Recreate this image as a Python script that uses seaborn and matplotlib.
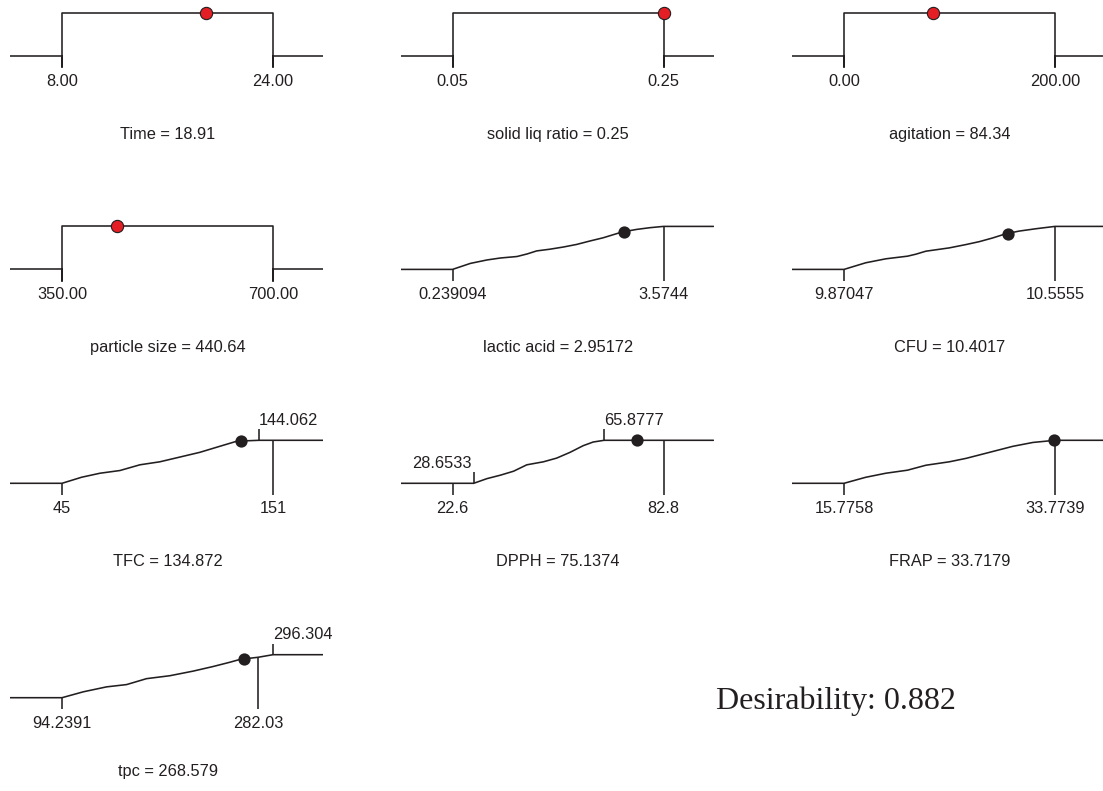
import matplotlib
matplotlib.use("Agg")
import matplotlib.pyplot as plt
import seaborn as sns
import pandas as pd
import numpy as np

# ---------------- data ----------------
factor_names = ["Time", "solid liq ratio", "agitation", "particle size"]
factor_low = [8.00, 0.05, 0.00, 350.00]
factor_high = [24.00, 0.25, 200.00, 700.00]
factor_value = [18.91, 0.25, 84.34, 440.64]
factor_value_text = ["18.91", "0.25", "84.34", "440.64"]
factor_low_text = ["8.00", "0.05", "0.00", "350.00"]
factor_high_text = ["24.00", "0.25", "200.00", "700.00"]

response_names = ["lactic acid", "CFU", "TFC", "DPPH", "FRAP", "tpc"]
response_value = [2.95172, 10.4017, 134.872, 75.1374, 33.7179, 268.579]
response_value_text = ["2.95172", "10.4017", "134.872", "75.1374", "33.7179", "268.579"]
response_dot_desir = [0.87, 0.83, 0.98, 1.0, 1.0, 0.89]

ticks_below = [[0.239094, 3.5744], [9.87047, 10.5555], [45, 151],
               [22.6, 82.8], [15.7758, 33.7739], [94.2391, 282.03]]
ticks_below_text = [["0.239094", "3.5744"], ["9.87047", "10.5555"], ["45", "151"],
                    ["22.6", "82.8"], ["15.7758", "33.7739"], ["94.2391", "282.03"]]
ticks_above = [[], [], [144.062], [28.6533, 65.8777], [], [296.304]]
ticks_above_text = [[], [], ["144.062"], ["28.6533", "65.8777"], [], ["296.304"]]

lactic_x = [0.239094, 0.523, 0.786, 0.996, 1.26, 1.42, 1.57, 1.78, 1.99, 2.20, 2.41, 2.62, 2.92, 3.15, 3.36, 3.5744]
lactic_d = [0, 0.14, 0.22, 0.265, 0.30, 0.36, 0.43, 0.47, 0.52, 0.58, 0.66, 0.735, 0.87, 0.93, 0.97, 1]
cfu_x = [9.87047, 9.941, 10.006, 10.077, 10.104, 10.136, 10.212, 10.266, 10.310, 10.353, 10.397, 10.440, 10.494, 10.5555]
cfu_d = [0, 0.154, 0.246, 0.308, 0.354, 0.423, 0.50, 0.577, 0.646, 0.731, 0.831, 0.892, 0.946, 1]
tfc_x = [45, 54.86, 64.06, 74.09, 84.12, 94.15, 104.19, 114.22, 124.25, 132.9, 144.062]
tfc_d = [0, 0.141, 0.234, 0.297, 0.43, 0.50, 0.61, 0.72, 0.86, 0.98, 1]
dpph_x = [28.6533, 32.44, 36.23, 40.02, 43.80, 48.54, 52.32, 56.11, 59.89, 62.73, 65.8777]
dpph_d = [0, 0.109, 0.188, 0.281, 0.43, 0.50, 0.586, 0.719, 0.875, 0.96, 1]
frap_x = [15.7758, 17.63, 19.34, 21.19, 22.76, 24.76, 26.19, 27.33, 28.47, 30.18, 31.89, 33.7739]
frap_d = [0, 0.14, 0.234, 0.305, 0.42, 0.50, 0.58, 0.66, 0.74, 0.86, 0.95, 1]
tpc_x = [94.2391, 114.64, 136.95, 156.07, 175.19, 197.5, 219.8, 238.9, 254.9, 265.1, 282.03, 296.304]
tpc_d = [0, 0.137, 0.252, 0.305, 0.443, 0.511, 0.618, 0.725, 0.824, 0.893, 0.94, 1]
curves_x = [lactic_x, cfu_x, tfc_x, dpph_x, frap_x, tpc_x]
curves_d = [lactic_d, cfu_d, tfc_d, dpph_d, frap_d, tpc_d]

desirability_text = "Desirability: 0.882"

# ---------------- style / layout ----------------
sns.set_theme(style="white")
plt.rcParams["font.family"] = ["Liberation Sans", "DejaVu Sans"]
INK = "#231f20"
RED = "#e31e24"
LW = 1.15
FS = 11.8

W, H = 1103, 791
col_center = [167.5, 558.0, 949.5]
row_base = [55.7, 269.4, 483.3, 697.7]
row_title_off = [-83, -83, -83, -78]
HALF = 105.5
LEFT_EXT, RIGHT_EXT = 52, 50
RAMP_H = 43.0
PAD = 15.0
TICK_DN = -11.5 / RAMP_H
TICK_UP = 11.0 / RAMP_H

factor_cells = [(0, 0), (0, 1), (0, 2), (1, 0)]
response_cells = [(1, 1), (1, 2), (2, 0), (2, 1), (2, 2), (3, 0)]

fig = plt.figure(figsize=(W / 100, H / 100), dpi=100)
fig.patch.set_facecolor("white")


def make_axes(r, c, lo, hi):
    cx, base = col_center[c], row_base[r]
    left_px = cx - HALF - LEFT_EXT
    right_px = cx + HALF + RIGHT_EXT
    ax = fig.add_axes([left_px / W, 1 - (base + PAD) / H,
                       (right_px - left_px) / W, (RAMP_H + 2 * PAD) / H])
    dpp = (hi - lo) / (2 * HALF)
    ax.set_xlim(lo - LEFT_EXT * dpp, hi + RIGHT_EXT * dpp)
    ax.set_ylim(-PAD / RAMP_H, 1 + PAD / RAMP_H)
    ax.axis("off")
    return ax


def label(ax, text, x, y, dy, ha="center", dx=0, size=FS):
    ax.annotate(text, xy=(x, y), xytext=(dx, dy), textcoords="offset pixels",
                ha=ha, va="baseline", fontsize=size, color=INK,
                annotation_clip=False)


# factor panels
for i, (r, c) in enumerate(factor_cells):
    lo, hi = factor_low[i], factor_high[i]
    ax = make_axes(r, c, lo, hi)
    x0, x1 = ax.get_xlim()
    path = pd.DataFrame({
        "x": [x0, lo, lo, lo, hi, hi, hi, x1],
        "y": [0, 0, TICK_DN, 1, 1, TICK_DN, 0, 0],
    })
    sns.lineplot(data=path, x="x", y="y", sort=False, estimator=None,
                 color=INK, lw=LW, ax=ax)
    dot = pd.DataFrame({"x": [factor_value[i]], "y": [1.0]})
    sns.scatterplot(data=dot, x="x", y="y", s=78, color=RED, edgecolor=INK,
                    linewidth=0.8, ax=ax, zorder=5, clip_on=False)
    label(ax, factor_low_text[i], lo, 0, -30)
    label(ax, factor_high_text[i], hi, 0, -30)
    label(ax, f"{factor_names[i]} = {factor_value_text[i]}", (lo + hi) / 2, 0,
          row_title_off[r])
    ax.set_xlabel(""); ax.set_ylabel("")

# response panels
for i, (r, c) in enumerate(response_cells):
    allt = ticks_below[i] + ticks_above[i]
    lo, hi = min(allt), max(allt)
    ax = make_axes(r, c, lo, hi)
    x0, x1 = ax.get_xlim()
    cx_, cd_ = curves_x[i], curves_d[i]
    path = pd.DataFrame({"x": [x0] + cx_ + [x1], "y": [0] + cd_ + [1]})
    sns.lineplot(data=path, x="x", y="y", sort=False, estimator=None,
                 color=INK, lw=LW, ax=ax)
    for t, txt in zip(ticks_below[i], ticks_below_text[i]):
        d = float(np.interp(t, cx_, cd_))
        ax.plot([t, t], [d, TICK_DN], color=INK, lw=LW, solid_capstyle="butt")
        label(ax, txt, t, 0, -30)
    for t, txt in zip(ticks_above[i], ticks_above_text[i]):
        d = float(np.interp(t, cx_, cd_))
        ax.plot([t, t], [d, d + TICK_UP], color=INK, lw=LW, solid_capstyle="butt")
        if d < 0.5:
            label(ax, txt, t, d, 15.7, ha="right", dx=-2)
        else:
            label(ax, txt, t, d, 15.7, ha="left", dx=0)
    dot = pd.DataFrame({"x": [response_value[i]], "y": [response_dot_desir[i]]})
    sns.scatterplot(data=dot, x="x", y="y", s=78, color=INK, edgecolor=INK,
                    linewidth=0, ax=ax, zorder=5, clip_on=False)
    label(ax, f"{response_names[i]} = {response_value_text[i]}", (lo + hi) / 2, 0,
          row_title_off[r])
    ax.set_xlabel(""); ax.set_ylabel("")

fig.text(716 / W, 1 - 709 / H, desirability_text, ha="left", va="baseline",
         fontsize=23, color=INK, family=["Liberation Serif", "DejaVu Serif"])

fig.savefig("out.png", dpi=100, facecolor="white")
